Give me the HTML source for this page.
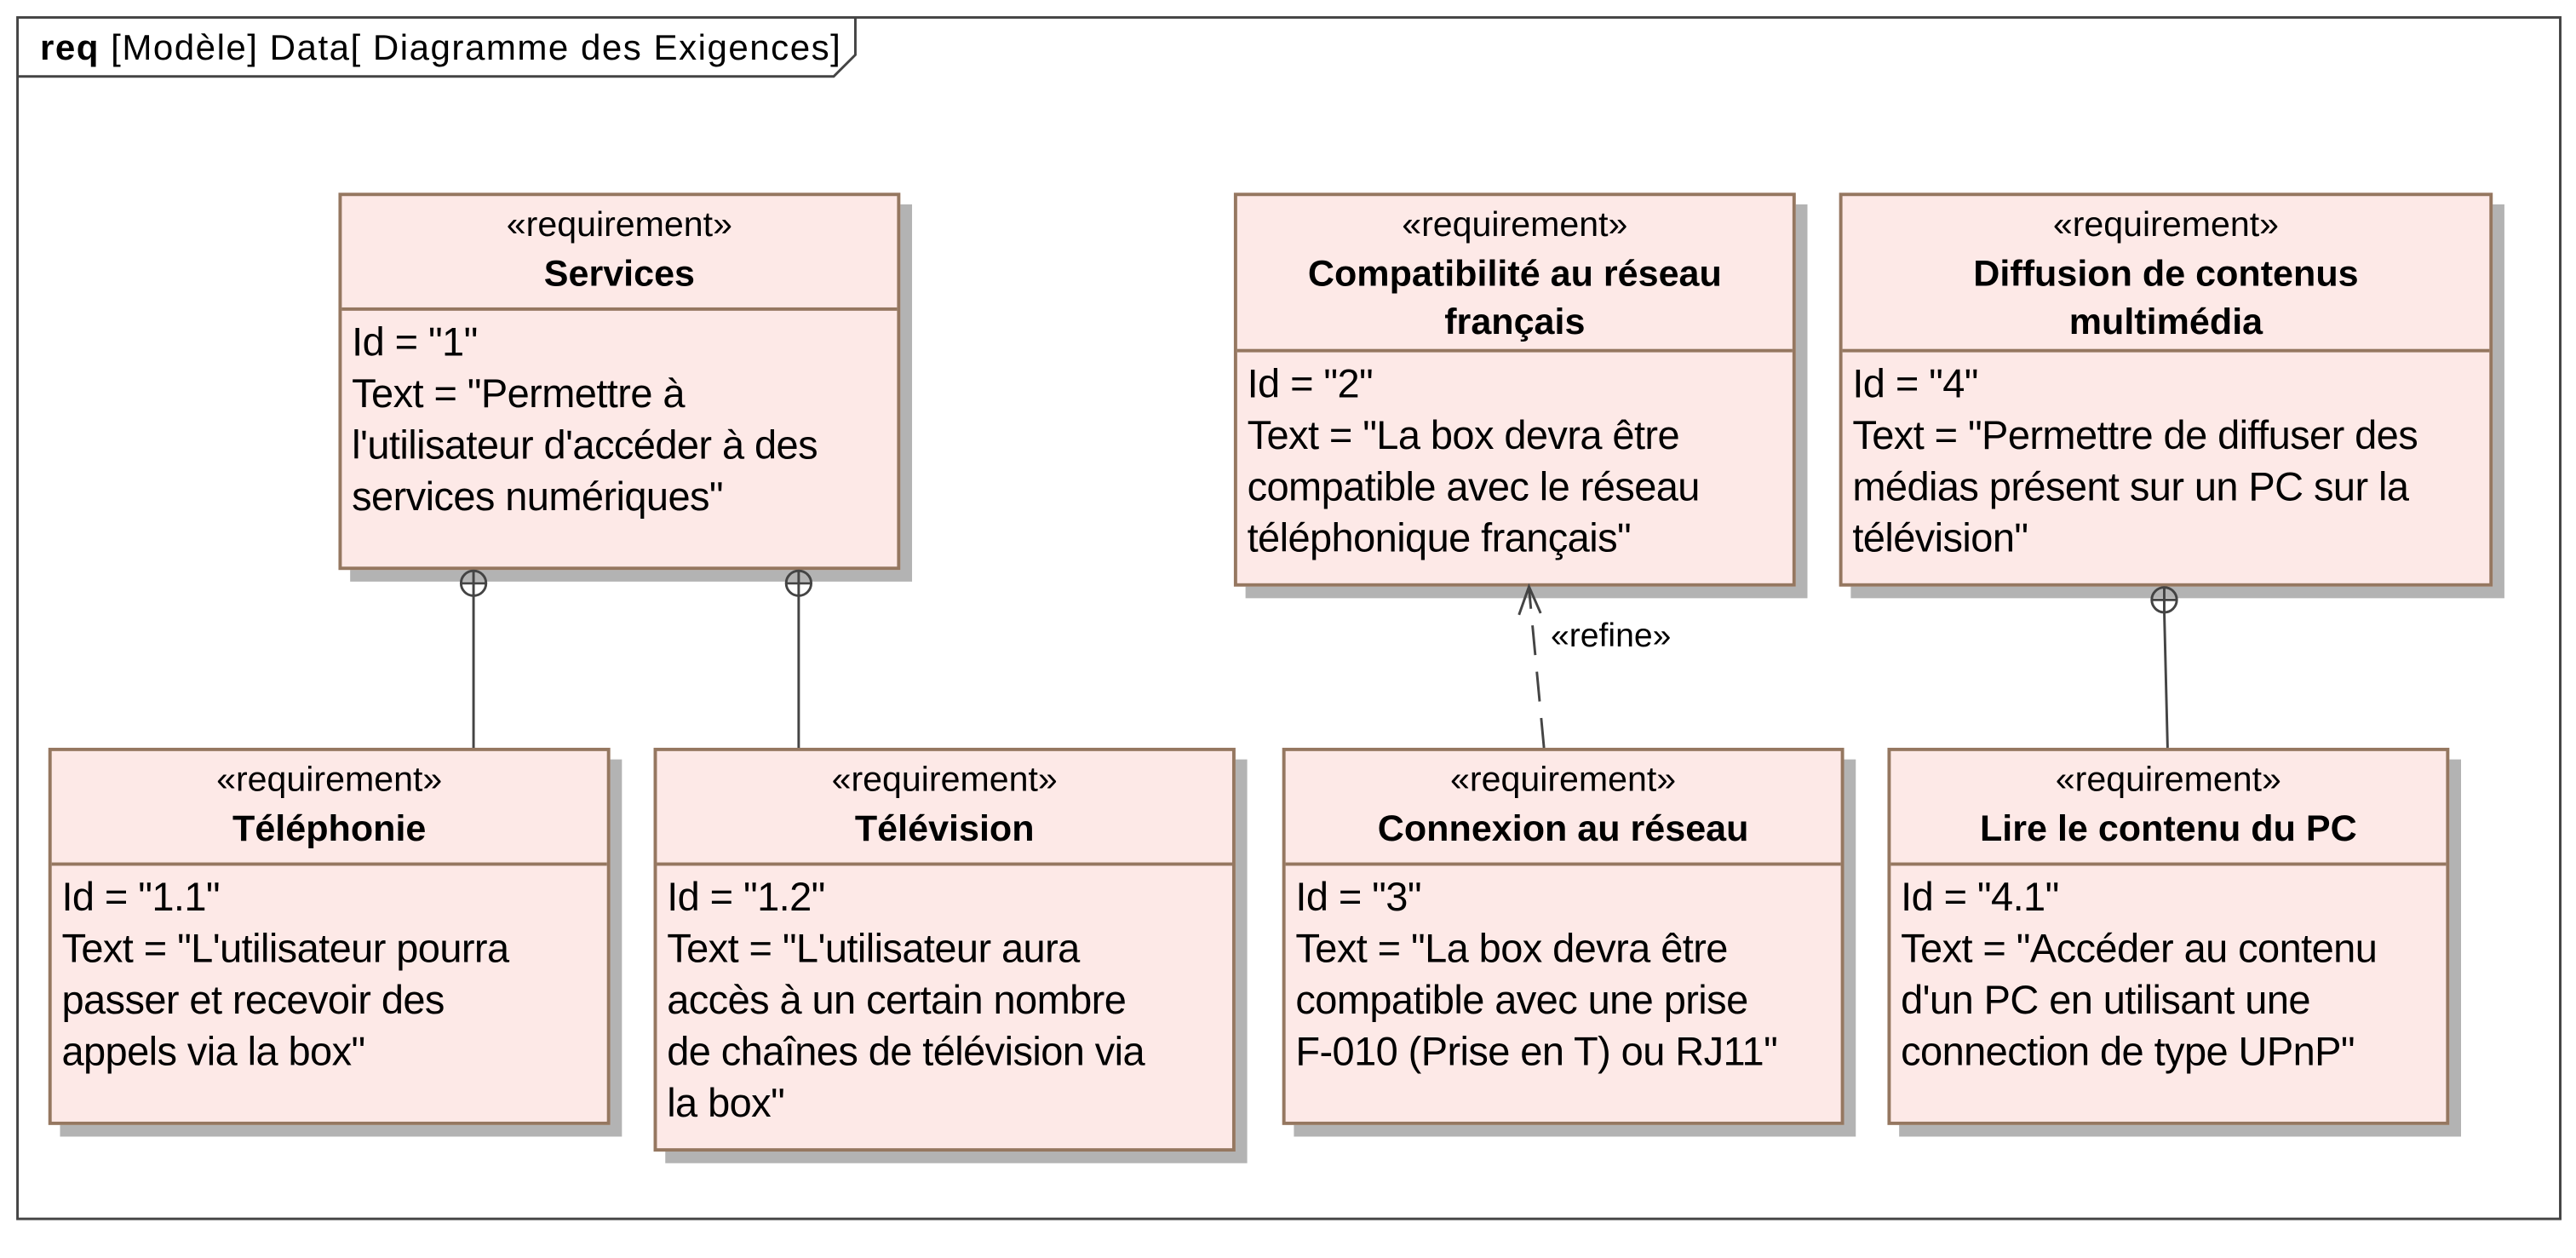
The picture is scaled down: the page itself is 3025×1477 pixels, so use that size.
<!DOCTYPE html>
<html><head><meta charset="utf-8"><style>
html,body{margin:0;padding:0;background:#fff;width:3025px;height:1477px;overflow:hidden}
#s{position:absolute;left:0;top:0;width:1545px;height:757px;transform:scale(1.958,1.951);transform-origin:0 0;font-family:"Liberation Sans",Arial,sans-serif;color:#000}
.b{position:absolute;background:#fde9e7;border:2px solid #957760;box-shadow:7px 7px 0 #b3b3b3;box-sizing:border-box}
.h{border-bottom:2px solid #957760;text-align:center;font-size:21px;line-height:29px;box-sizing:border-box;padding-top:3px}
.h b{display:block;font-size:22px}
.t{font-size:24px;line-height:31px;padding:4px 0 0 6px;white-space:nowrap;letter-spacing:-0.3px}
svg{z-index:5}
</style></head><body><div id="s">
<div class="b" style="left:203px;top:116px;width:337px;height:227px"><div class="h" style="height:69px">«requirement»<b>Services</b></div><div class="t">Id = "1"<br>Text = "Permettre à<br>l'utilisateur d'accéder à des<br>services numériques"</div></div>
<div class="b" style="left:740px;top:116px;width:337px;height:237px"><div class="h" style="height:94px">«requirement»<b>Compatibilité au réseau<br>français</b></div><div class="t">Id = "2"<br>Text = "La box devra être<br>compatible avec le réseau<br>téléphonique français"</div></div>
<div class="b" style="left:1103px;top:116px;width:392px;height:237px"><div class="h" style="height:94px">«requirement»<b>Diffusion de contenus<br>multimédia</b></div><div class="t">Id = "4"<br>Text = "Permettre de diffuser des<br>médias présent sur un PC sur la<br>télévision"</div></div>
<div class="b" style="left:29px;top:450px;width:337px;height:227px"><div class="h" style="height:69px">«requirement»<b>Téléphonie</b></div><div class="t">Id = "1.1"<br>Text = "L'utilisateur pourra<br>passer et recevoir des<br>appels via la box"</div></div>
<div class="b" style="left:392px;top:450px;width:349px;height:243px"><div class="h" style="height:69px">«requirement»<b>Télévision</b></div><div class="t">Id = "1.2"<br>Text = "L'utilisateur aura<br>accès à un certain nombre<br>de chaînes de télévision via<br>la box"</div></div>
<div class="b" style="left:769px;top:450px;width:337px;height:227px"><div class="h" style="height:69px">«requirement»<b>Connexion au réseau</b></div><div class="t">Id = "3"<br>Text = "La box devra être<br>compatible avec une prise<br>F-010 (Prise en T) ou RJ11"</div></div>
<div class="b" style="left:1132px;top:450px;width:337px;height:227px"><div class="h" style="height:69px">«requirement»<b>Lire le contenu du PC</b></div><div class="t">Id = "4.1"<br>Text = "Accéder au contenu<br>d'un PC en utilisant une<br>connection de type UPnP"</div></div>
<svg width="1545" height="757" style="position:absolute;left:0;top:0">
<rect x="10.5" y="10.5" width="1525" height="723" fill="none" stroke="#444" stroke-width="1.5"/>
<polyline points="10.5,46 500,46 513,33 513,10.5" fill="none" stroke="#444" stroke-width="1.5"/>
<text x="24" y="36" font-size="21.5" font-family="Liberation Sans,sans-serif" textLength="480"><tspan font-weight="bold">req</tspan>  [Modèle] Data[ Diagramme des Exigences]</text>
<g stroke="#444" stroke-width="1.5" fill="none">
<line x1="284" y1="358" x2="284" y2="450"/><circle cx="284" cy="351" r="7.5"/><line x1="276.5" y1="351" x2="291.5" y2="351"/><line x1="284" y1="343" x2="284" y2="358"/>
<line x1="479" y1="358" x2="479" y2="450"/><circle cx="479" cy="351" r="7.5"/><line x1="471.5" y1="351" x2="486.5" y2="351"/><line x1="479" y1="343" x2="479" y2="358"/>
<line x1="1298" y1="368" x2="1300" y2="450"/><circle cx="1298" cy="361" r="7.5"/><line x1="1290.5" y1="361" x2="1305.5" y2="361"/><line x1="1298" y1="353" x2="1298" y2="368"/>
<line x1="926" y1="450" x2="917" y2="354" stroke-dasharray="18,10"/>
<polyline points="911,370 917,353 924,369"/>
</g>
<text x="930" y="389" font-size="20" font-family="Liberation Sans,sans-serif">«refine»</text>
</svg>
</div></body></html>
